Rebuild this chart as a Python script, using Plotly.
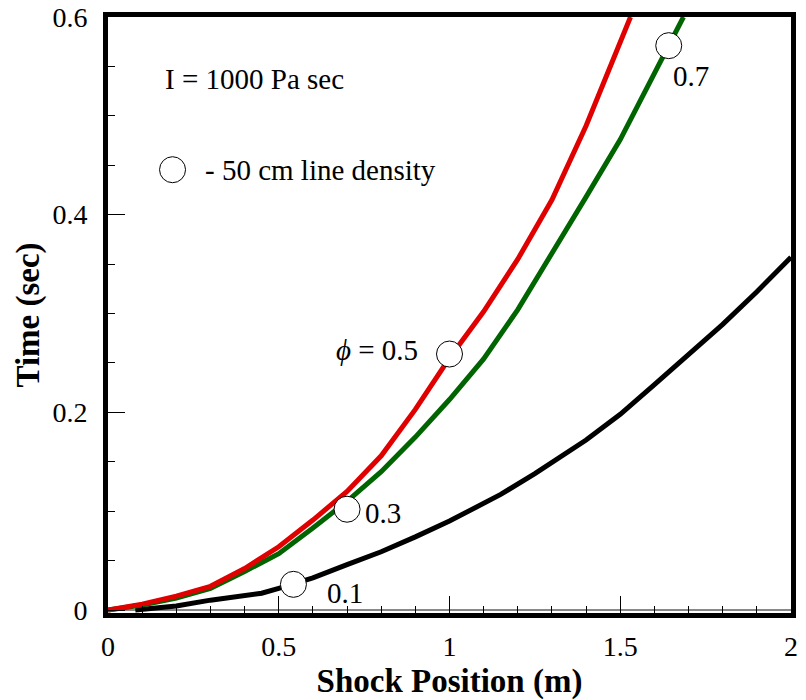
import plotly.graph_objects as go

# phi = 0.5 (red)
red_x = [0, 0.1, 0.2, 0.3, 0.4, 0.5, 0.6, 0.7, 0.8, 0.9, 1.0, 1.1, 1.2, 1.3, 1.4, 1.5, 1.53]
red_t = [0, 0.006, 0.014, 0.024, 0.042, 0.064, 0.091, 0.12, 0.156, 0.203, 0.255, 0.302, 0.355, 0.415, 0.49, 0.574, 0.6]

# green curve
green_x = [0, 0.1, 0.2, 0.3, 0.4, 0.5, 0.6, 0.7, 0.8, 0.9, 1.0, 1.05, 1.1, 1.2, 1.3, 1.4, 1.5, 1.6, 1.685]
green_t = [0, 0.005, 0.012, 0.022, 0.039, 0.057, 0.083, 0.11, 0.14, 0.175, 0.213, 0.233, 0.254, 0.304, 0.36, 0.418, 0.476, 0.542, 0.6]

# phi = 0.1 (black)
black_x = [0.08, 0.2, 0.3, 0.4, 0.45, 0.5, 0.55, 0.6, 0.7, 0.8, 0.9, 1.0, 1.15, 1.25, 1.4, 1.5, 1.6, 1.7, 1.8, 1.9, 2.0]
black_t = [0, 0.004, 0.01, 0.0155, 0.017, 0.022, 0.027, 0.0325, 0.046, 0.059, 0.074, 0.09, 0.117, 0.138, 0.172, 0.198, 0.228, 0.258, 0.289, 0.322, 0.357]

# 50 cm line density markers
circle_x = [0.543, 0.70, 1.0, 1.642]
circle_t = [0.026, 0.102, 0.259, 0.571]

# legend symbol
legend_circle_x = [0.189]
legend_circle_t = [0.4455]

x_major = [0, 0.5, 1, 1.5, 2]
x_major_text = ["0", "0.5", "1", "1.5", "2"]
y_major = [0, 0.2, 0.4, 0.6]
y_major_text = ["0", "0.2", "0.4", "0.6"]

FONT = "Liberation Serif, Times New Roman, serif"

fig = go.Figure()
fig.add_trace(go.Scatter(x=black_x, y=black_t, mode="lines",
                         line=dict(color="black", width=5), showlegend=False))
fig.add_trace(go.Scatter(x=green_x, y=green_t, mode="lines",
                         line=dict(color="#006400", width=5), showlegend=False))
fig.add_trace(go.Scatter(x=red_x, y=red_t, mode="lines",
                         line=dict(color="#e00000", width=5), showlegend=False))
fig.add_trace(go.Scatter(x=circle_x, y=circle_t, mode="markers",
                         marker=dict(symbol="circle", size=26, color="white",
                                     line=dict(color="black", width=1)),
                         showlegend=False))
fig.add_trace(go.Scatter(x=legend_circle_x, y=legend_circle_t, mode="markers",
                         marker=dict(symbol="circle", size=26, color="white",
                                     line=dict(color="black", width=1)),
                         showlegend=False))

ann_font = dict(family=FONT, size=29, color="black")
annotations = [
    dict(x=0.162, y=0.5376, text="I = 1000 Pa sec", xanchor="left", yanchor="middle"),
    dict(x=0.279, y=0.4455, text="- 50 cm line density", xanchor="left", yanchor="middle"),
    dict(x=0.914, y=0.263, text="<i>ϕ</i> = 0.5", xanchor="right", yanchor="middle"),
    dict(x=0.747, y=0.0985, text="0.3", xanchor="left", yanchor="middle"),
    dict(x=1.65, y=0.5407, text="0.7", xanchor="left", yanchor="middle"),
    dict(x=0.636, y=0.0176, text="0.1", xanchor="left", yanchor="middle"),
]
for a in annotations:
    a.update(xref="x", yref="y", showarrow=False, font=ann_font)

fig.update_layout(
    width=806, height=700,
    margin=dict(l=107.5, r=14.5, t=17.3, b=86.6),
    paper_bgcolor="white", plot_bgcolor="white",
    font=dict(family=FONT, size=28, color="black"),
    annotations=annotations,
    showlegend=False,
)
fig.update_xaxes(
    range=[0, 2], showgrid=False, zeroline=False,
    showline=True, linecolor="black", linewidth=5, mirror=True,
    tickmode="array", tickvals=x_major, ticktext=x_major_text,
    ticks="inside", ticklen=17, tickwidth=1, tickcolor="black",
    minor=dict(dtick=0.1, ticks="inside", ticklen=7, tickwidth=1, tickcolor="black"),
    tickfont=dict(family=FONT, size=28), ticklabelstandoff=4,
    title=dict(text="<b>Shock Position (m)</b>", font=dict(family=FONT, size=33), standoff=17),
    automargin=False,
)
fig.update_yaxes(
    range=[-0.003, 0.6], showgrid=False,
    zeroline=True, zerolinecolor="#888888", zerolinewidth=2,
    showline=True, linecolor="black", linewidth=5, mirror=True,
    tickmode="array", tickvals=y_major, ticktext=y_major_text,
    ticks="inside", ticklen=17, tickwidth=1, tickcolor="black",
    minor=dict(dtick=0.05, ticks="inside", ticklen=7, tickwidth=1, tickcolor="black"),
    tickfont=dict(family=FONT, size=28), ticklabelstandoff=10,
    title=dict(text="<b>Time (sec)</b>", font=dict(family=FONT, size=33), standoff=4),
    automargin=False,
)

fig.write_html("out.html", config={"displayModeBar": False},
               post_script="document.body.style.margin='0';document.body.style.padding='0';")
